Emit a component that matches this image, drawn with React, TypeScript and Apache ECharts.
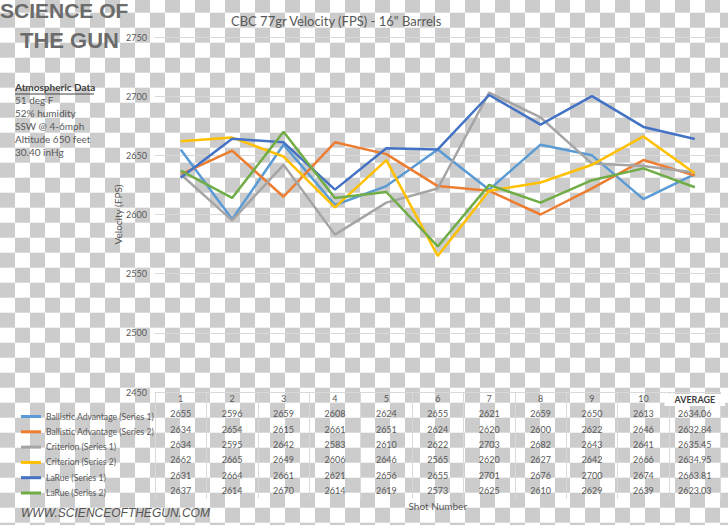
import React, { useEffect, useRef } from "react";
import * as echarts from "echarts";

const categories = ["1", "2", "3", "4", "5", "6", "7", "8", "9", "10", "AVERAGE"];
const seriesNames = [
  "Ballistic Advantage (Series 1)",
  "Ballistic Advantage (Series 2)",
  "Criterion (Series 1)",
  "Criterion (Series 2)",
  "LaRue (Series 1)",
  "LaRue (Series 2)",
];
const seriesColors = ["#5B9BD5", "#ED7D31", "#A5A5A5", "#FFC000", "#4472C4", "#70AD47"];

const ba1 = [2655, 2596, 2659, 2608, 2624, 2655, 2621, 2659, 2650, 2613, 2634.06];
const ba2 = [2634, 2654, 2615, 2661, 2651, 2624, 2620, 2600, 2622, 2646, 2632.84];
const cr1 = [2634, 2595, 2642, 2583, 2610, 2622, 2703, 2682, 2643, 2641, 2635.45];
const cr2 = [2662, 2665, 2649, 2606, 2646, 2565, 2620, 2627, 2642, 2666, 2634.95];
const lr1 = [2631, 2664, 2661, 2621, 2656, 2655, 2701, 2676, 2700, 2674, 2663.81];
const lr2 = [2637, 2614, 2670, 2614, 2619, 2573, 2625, 2610, 2629, 2639, 2623.03];
const allSeries = [ba1, ba2, cr1, cr2, lr1, lr2];

const yMin = 2450;
const yMax = 2750;
const yStep = 50;

const atmoLines = ["51 deg F", "52% humidity", "SSW @ 4-6mph", "Altitude 650 feet", "30.40 inHg"];

const FONT = "Lato, 'Liberation Sans', sans-serif";
const TXT = "#595959";
const GRIDC = "#d9d9d9";

function fmt(v: number, i: number) {
  return i === categories.length - 1 ? v.toFixed(2) : String(v);
}

export default function App() {
  const ref = useRef<HTMLDivElement>(null);
  useEffect(() => {
    if (!ref.current) return;
    const chart = echarts.init(ref.current, undefined, { renderer: "svg" });
    const rowStep = 15.3;
    const tableAxes = allSeries.map((vals, r) => ({
      type: "category",
      gridIndex: 0,
      data: categories,
      position: "bottom",
      offset: rowStep * (r + 1),
      axisLine: { show: false },
      axisTick: { show: false },
      splitLine: { show: false },
      axisLabel: {
        interval: 0,
        margin: 2,
        fontSize: 9,
        fontFamily: FONT,
        color: TXT,
        formatter: (_v: string, i: number) => fmt(vals[i], i),
      },
    }));
    const option: any = {
      animation: false,
      backgroundColor: "transparent",
      title: {
        text: 'CBC 77gr Velocity (FPS) - 16" Barrels',
        left: 226,
        top: 9,
        textStyle: { fontSize: 13, fontWeight: "normal", color: TXT, fontFamily: FONT },
      },
      legend: {
        orient: "vertical",
        left: 16,
        top: 404.5,
        icon: "rect",
        itemWidth: 20,
        itemHeight: 3,
        itemGap: 1.3,
        data: seriesNames,
        textStyle: { fontSize: 8.6, color: TXT, fontFamily: FONT, lineHeight: 14 },
      },
      grid: { left: 155, right: 4, top: 37, bottom: 133 },
      xAxis: [
        {
          type: "category",
          data: categories,
          boundaryGap: true,
          axisLine: { show: true, lineStyle: { color: GRIDC, width: 1 } },
          axisTick: { show: true, interval: 0, length: 106, lineStyle: { color: GRIDC } },
          axisLabel: {
            interval: 0,
            margin: 2,
            fontSize: 9,
            fontFamily: FONT,
            color: TXT,
            formatter: (v: string) => (v === "AVERAGE" ? "{avg|AVERAGE}" : v),
            rich: {
              avg: {
                fontSize: 9,
                fontWeight: "bold",
                fontFamily: FONT,
                color: "#404040",
                backgroundColor: "#ffffff",
                padding: [1, 10, 2, 10],
              },
            },
          },
          name: "Shot Number",
          nameLocation: "middle",
          nameGap: 109,
          nameMoveOverlap: false,
          nameTextStyle: { fontSize: 10, color: TXT, fontFamily: FONT },
        },
        ...tableAxes,
      ],
      yAxis: {
        type: "value",
        min: yMin,
        max: yMax,
        interval: yStep,
        axisLine: { show: false },
        axisTick: { show: false },
        axisLabel: { fontSize: 9, color: TXT, fontFamily: FONT, margin: 8, formatter: (v: number) => String(v) },
        splitLine: { lineStyle: { color: GRIDC, width: 1 } },
        name: "Velocity (FPS)",
        nameLocation: "middle",
        nameGap: 32,
        nameMoveOverlap: false,
        nameRotate: 90,
        nameTextStyle: { fontSize: 10, color: TXT, fontFamily: FONT },
      },
      series: allSeries.map((vals, i) => ({
        type: "line",
        name: seriesNames[i],
        data: vals,
        xAxisIndex: 0,
        yAxisIndex: 0,
        showSymbol: false,
        symbol: "none",
        lineStyle: { width: 2.5, color: seriesColors[i] },
        itemStyle: { color: seriesColors[i] },
      })),
      graphic: [
        {
          type: "text",
          left: 0,
          top: 0,
          style: { text: "SCIENCE OF", fontSize: 21, fontWeight: "bold", fill: "#6b6b6b", fontFamily: "'Liberation Sans', sans-serif" },
        },
        {
          type: "text",
          left: 20,
          top: 29,
          style: { text: "THE GUN", fontSize: 22, fontWeight: "bold", fill: "#6b6b6b", fontFamily: "'Liberation Sans', sans-serif" },
        },
        {
          type: "text",
          left: 15,
          top: 82,
          style: { text: "Atmospheric Data", fontSize: 10, fontWeight: "bold", fill: "#404040", fontFamily: FONT },
        },
        {
          type: "line",
          shape: { x1: 15, y1: 94, x2: 94, y2: 94 },
          style: { stroke: "#404040", lineWidth: 1 },
        },
        {
          type: "text",
          left: 15,
          top: 94,
          style: { text: atmoLines.join("\n"), fontSize: 10, lineHeight: 12.8, fill: TXT, fontFamily: FONT },
        },
        {
          type: "text",
          left: 21,
          top: 507,
          style: { text: "WWW.SCIENCEOFTHEGUN.COM", fontSize: 12, fontStyle: "italic", fill: "#555555", fontFamily: "'Liberation Sans', sans-serif" },
        },
      ],
    };
    chart.setOption(option);
    return () => chart.dispose();
  }, []);
  return (
    <div
      ref={ref}
      style={{
        position: "absolute",
        left: 0,
        top: 0,
        width: 728,
        height: 525,
        backgroundColor: "#ffffff",
        backgroundImage: "conic-gradient(#cccccc 0 25%, #ffffff 0 50%, #cccccc 0 75%, #ffffff 0)",
        backgroundSize: "30px 30px",
        backgroundPosition: "0px -2.3px",
      }}
    />
  );
}
